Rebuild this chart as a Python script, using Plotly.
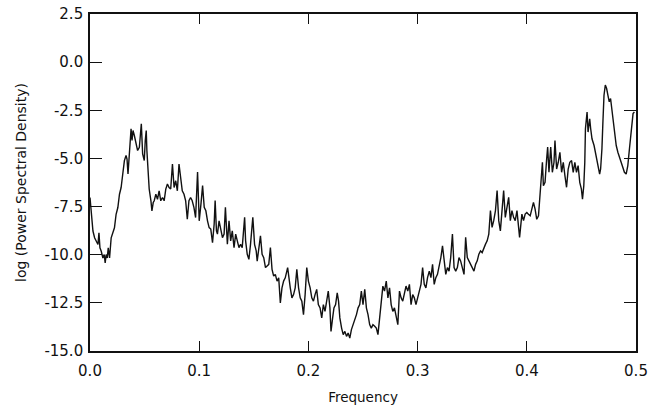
import plotly.graph_objects as go

# Frequency values (cycles per unit time)
freq = [
    0.0000, 0.0009, 0.0018, 0.0027, 0.0042, 0.0058, 0.0073, 0.0082, 0.0091, 0.0103,
    0.0118, 0.0130, 0.0139, 0.0148, 0.0158, 0.0167, 0.0179, 0.0194, 0.0209, 0.0224,
    0.0239, 0.0255, 0.0270, 0.0285, 0.0300, 0.0315, 0.0330, 0.0339, 0.0348, 0.0361,
    0.0376, 0.0385, 0.0394, 0.0406, 0.0421, 0.0436, 0.0452, 0.0461, 0.0470, 0.0482,
    0.0497, 0.0506, 0.0515, 0.0521, 0.0530, 0.0542, 0.0558, 0.0567, 0.0579, 0.0588,
    0.0603, 0.0618, 0.0633, 0.0648, 0.0664, 0.0679, 0.0694, 0.0709, 0.0724, 0.0739,
    0.0755, 0.0770, 0.0785, 0.0800, 0.0815, 0.0830, 0.0845, 0.0861, 0.0876, 0.0891,
    0.0906, 0.0921, 0.0936, 0.0952, 0.0967, 0.0985, 0.1000, 0.1016, 0.1031, 0.1046,
    0.1061, 0.1076, 0.1091, 0.1106, 0.1122, 0.1137, 0.1146, 0.1158, 0.1167, 0.1182,
    0.1197, 0.1213, 0.1228, 0.1240, 0.1258, 0.1273, 0.1288, 0.1303, 0.1319, 0.1334,
    0.1349, 0.1364, 0.1379, 0.1394, 0.1416, 0.1425, 0.1440, 0.1455, 0.1470, 0.1491,
    0.1507, 0.1522, 0.1531, 0.1546, 0.1561, 0.1576, 0.1591, 0.1607, 0.1622, 0.1637,
    0.1652, 0.1667, 0.1682, 0.1697, 0.1713, 0.1728, 0.1743, 0.1758, 0.1773, 0.1788,
    0.1810, 0.1825, 0.1834, 0.1849, 0.1864, 0.1879, 0.1894, 0.1910, 0.1925, 0.1940,
    0.1955, 0.1970, 0.1985, 0.2000, 0.2016, 0.2031, 0.2046, 0.2061, 0.2076, 0.2091,
    0.2107, 0.2122, 0.2137, 0.2152, 0.2167, 0.2182, 0.2197, 0.2207, 0.2222, 0.2234,
    0.2249, 0.2264, 0.2276, 0.2288, 0.2304, 0.2319, 0.2334, 0.2349, 0.2364, 0.2379,
    0.2394, 0.2410, 0.2425, 0.2440, 0.2455, 0.2470, 0.2485, 0.2500, 0.2516, 0.2531,
    0.2546, 0.2561, 0.2576, 0.2591, 0.2607, 0.2622, 0.2637, 0.2652, 0.2667, 0.2682,
    0.2697, 0.2713, 0.2728, 0.2743, 0.2758, 0.2773, 0.2788, 0.2803, 0.2819, 0.2834,
    0.2849, 0.2864, 0.2879, 0.2894, 0.2910, 0.2925, 0.2940, 0.2955, 0.2970, 0.2985,
    0.3031, 0.3046, 0.3061, 0.3076, 0.3091, 0.3107, 0.3122, 0.3137, 0.3152, 0.3167,
    0.3182, 0.3197, 0.3213, 0.3228, 0.3243, 0.3258, 0.3273, 0.3288, 0.3303, 0.3319,
    0.3334, 0.3349, 0.3364, 0.3379, 0.3394, 0.3410, 0.3425, 0.3440, 0.3455, 0.3470,
    0.3485, 0.3500, 0.3516, 0.3531, 0.3546, 0.3561, 0.3576, 0.3591, 0.3607, 0.3622,
    0.3637, 0.3652, 0.3667, 0.3682, 0.3697, 0.3713, 0.3728, 0.3743, 0.3758, 0.3773,
    0.3788, 0.3803, 0.3819, 0.3834, 0.3849, 0.3864, 0.3879, 0.3894, 0.3910, 0.3925,
    0.3934, 0.3955, 0.3970, 0.3985, 0.4000, 0.4015, 0.4031, 0.4046, 0.4061, 0.4076,
    0.4091, 0.4107, 0.4122, 0.4137, 0.4143, 0.4152, 0.4167, 0.4182, 0.4191, 0.4203,
    0.4219, 0.4234, 0.4249, 0.4258, 0.4273, 0.4288, 0.4303, 0.4319, 0.4334, 0.4349,
    0.4364, 0.4379, 0.4394, 0.4410, 0.4425, 0.4440, 0.4455, 0.4470, 0.4485, 0.4500,
    0.4510, 0.4522, 0.4531, 0.4537, 0.4552, 0.4561, 0.4576, 0.4585, 0.4597, 0.4616,
    0.4628, 0.4640, 0.4652, 0.4667, 0.4676, 0.4688, 0.4697, 0.4707, 0.4719, 0.4731,
    0.4743, 0.4755, 0.4767, 0.4779, 0.4791, 0.4803, 0.4819, 0.4834, 0.4849, 0.4864,
    0.4879, 0.4894, 0.4910, 0.4925, 0.4940, 0.4955, 0.4973, 0.4985,
]

# log of power spectral density
log_psd = [
    -7.03, -7.73, -8.60, -8.77, -9.12, -9.29, -9.47, -8.86, -9.64, -9.82,
    -10.17, -9.99, -10.43, -9.99, -10.17, -9.64, -10.17, -9.12, -8.86, -8.60,
    -7.90, -7.55, -6.86, -6.51, -5.81, -5.11, -4.85, -5.03, -5.81, -4.59,
    -3.46, -4.07, -3.55, -3.81, -4.16, -4.59, -4.42, -3.89, -3.20, -4.76,
    -5.11, -4.07, -3.55, -4.59, -5.81, -6.59, -7.20, -7.73, -7.29, -7.20,
    -6.86, -7.12, -6.68, -7.20, -7.03, -7.20, -6.59, -6.33, -6.51, -6.59,
    -5.29, -6.51, -6.16, -6.68, -5.29, -6.16, -6.68, -6.86, -7.20, -8.16,
    -7.20, -7.03, -7.20, -7.55, -8.07, -5.71, -8.24, -7.37, -6.41, -7.54,
    -7.72, -8.24, -8.59, -8.67, -9.37, -8.41, -7.19, -8.76, -8.93, -8.24,
    -8.76, -9.11, -8.93, -7.54, -9.46, -8.24, -9.28, -8.76, -9.63, -8.93,
    -9.28, -9.63, -9.46, -9.63, -8.06, -9.28, -9.98, -10.24, -9.46, -8.06,
    -9.46, -9.80, -10.33, -9.80, -9.02, -9.98, -10.15, -10.67, -10.59, -10.50,
    -9.63, -10.76, -11.11, -11.02, -11.37, -11.20, -12.50, -11.72, -11.37, -11.20,
    -10.67, -11.54, -11.72, -12.24, -12.07, -11.72, -10.76, -11.72, -12.24, -12.42,
    -13.11, -12.07, -10.67, -11.37, -11.72, -12.24, -12.41, -12.07, -11.80, -12.59,
    -12.76, -13.28, -12.59, -12.94, -12.41, -11.89, -12.76, -13.98, -13.28, -12.76,
    -12.59, -11.98, -12.41, -13.28, -13.81, -14.15, -13.98, -14.24, -14.07, -14.33,
    -13.89, -13.63, -13.46, -13.11, -12.76, -12.59, -11.89, -12.59, -11.80, -12.76,
    -13.11, -13.63, -13.81, -13.63, -13.72, -13.81, -14.15, -13.28, -12.41, -11.63,
    -11.89, -11.37, -12.24, -11.72, -12.59, -12.94, -12.76, -13.28, -13.63, -11.89,
    -12.24, -12.41, -12.07, -11.63, -11.89, -11.54, -12.59, -12.07, -12.24, -12.59,
    -11.54, -10.67, -11.54, -11.72, -11.19, -10.85, -11.19, -10.50, -11.54, -11.19,
    -11.02, -10.67, -10.15, -9.54, -10.32, -11.02, -10.67, -10.85, -10.15, -8.93,
    -10.67, -10.85, -10.67, -10.15, -10.32, -10.67, -11.02, -9.10, -10.15, -10.32,
    -10.50, -10.67, -10.85, -10.50, -10.32, -9.97, -9.80, -9.89, -9.63, -9.45,
    -9.28, -8.93, -7.71, -8.58, -8.23, -7.71, -6.67, -8.23, -8.76, -7.89,
    -6.67, -8.06, -7.54, -7.02, -8.23, -7.71, -8.06, -8.23, -7.71, -8.58,
    -9.10, -7.89, -8.23, -7.89, -7.81, -7.90, -7.98, -7.63, -7.29, -7.63,
    -8.16, -7.98, -6.94, -6.07, -5.20, -6.42, -6.24, -5.02, -4.41, -5.72,
    -4.41, -5.72, -5.20, -4.07, -5.55, -5.20, -4.68, -5.72, -5.20, -5.89,
    -6.50, -5.55, -5.20, -5.11, -5.72, -5.20, -5.72, -5.37, -6.24, -6.59,
    -7.11, -6.42, -5.20, -3.46, -2.59, -3.63, -2.94, -3.46, -3.98, -4.33,
    -4.68, -5.02, -5.55, -5.81, -5.55, -4.50, -3.11, -1.72, -1.19, -1.37,
    -1.72, -2.06, -1.89, -2.41, -2.94, -3.63, -4.33, -4.68, -5.02, -5.20,
    -5.46, -5.72, -5.81, -5.37, -4.50, -3.46, -2.67, -2.59,
]

x_ticks = [0.0, 0.1, 0.2, 0.3, 0.4, 0.5]
x_tick_labels = ["0.0", "0.1", "0.2", "0.3", "0.4", "0.5"]
y_ticks = [-15.0, -12.5, -10.0, -7.5, -5.0, -2.5, 0.0, 2.5]
y_tick_labels = ["-15.0", "-12.5", "-10.0", "-7.5", "-5.0", "-2.5", "0.0", "2.5"]

fig = go.Figure()
fig.add_trace(go.Scatter(
    x=freq, y=log_psd, mode="lines",
    line=dict(color="#111111", width=1.4),
    showlegend=False, hoverinfo="skip",
))

axis_common = dict(
    showline=True, linecolor="#111111", linewidth=1.6,
    mirror="ticks", ticks="inside", tickcolor="#111111", tickwidth=1.3,
    showgrid=False, zeroline=False, automargin=False,
    ticklabeloverflow="allow",
    tickfont=dict(family="DejaVu Sans", size=15, color="#111111"),
)

fig.update_layout(
    width=650, height=410,
    margin=dict(l=90, r=14, t=14, b=59),
    paper_bgcolor="white", plot_bgcolor="white",
    font=dict(family="DejaVu Sans", size=14, color="#111111"),
    xaxis=dict(
        range=[0, 0.5], tickvals=x_ticks, ticktext=x_tick_labels, ticklen=10,
        ticklabelstandoff=5,
        title=dict(text="Frequency", font=dict(size=13.5), standoff=14),
        **axis_common,
    ),
    yaxis=dict(
        range=[-15, 2.5], tickvals=y_ticks, ticktext=y_tick_labels, ticklen=12,
        ticklabelstandoff=2,
        title=dict(text="log (Power Spectral Density)", font=dict(size=14), standoff=14),
        **axis_common,
    ),
)

fig.write_html("out.html")
